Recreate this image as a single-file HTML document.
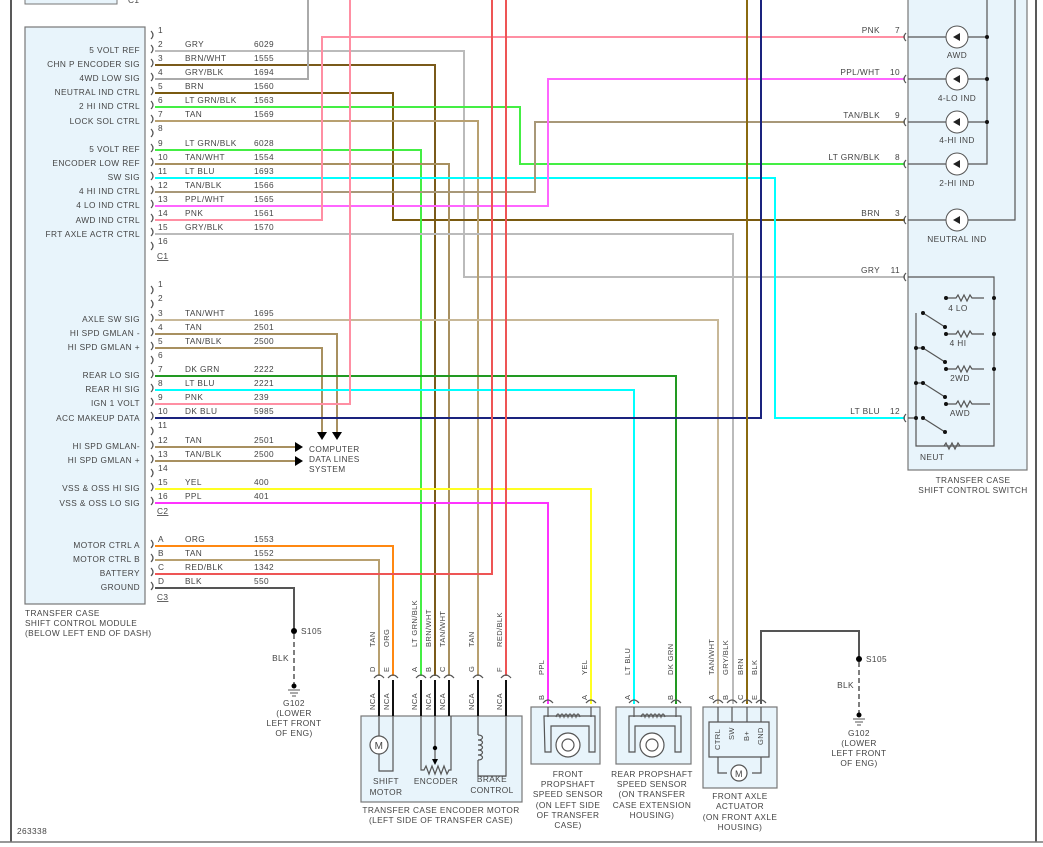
<!DOCTYPE html>
<html><head><meta charset="utf-8"><style>
html,body{margin:0;padding:0;background:#fff;}
svg{display:block;font-family:"Liberation Sans",sans-serif;font-size:8.3px;fill:#444;letter-spacing:0.4px}
.w{fill:none;stroke-width:2}
.k{fill:none;stroke:#555;stroke-width:1.2}
.e{text-anchor:end}.m{text-anchor:middle}
</style></head><body>
<svg width="1043" height="847" viewBox="0 0 1043 847" xmlns="http://www.w3.org/2000/svg">
<!-- frame -->
<line x1="11" y1="0" x2="11" y2="842" stroke="#222" stroke-width="1.5"/>
<line x1="1036" y1="0" x2="1036" y2="842" stroke="#222" stroke-width="1.5"/>
<line x1="0" y1="842" x2="1043" y2="842" stroke="#777" stroke-width="1.5"/>
<rect x="25" y="-5" width="92" height="9" fill="#e8f4fb" stroke="#777"/>
<text x="128" y="3">C1</text>
<!-- module -->
<rect x="25" y="27" width="120" height="577" fill="#e8f4fb" stroke="#777" stroke-width="1.2"/>
<rect x="908" y="-5" width="119" height="475" fill="#e8f4fb" stroke="#777" stroke-width="1.2"/>
<rect x="361" y="716" width="161" height="86" fill="#e8f4fb" stroke="#777" stroke-width="1.2"/>
<rect x="531" y="707" width="69" height="57" fill="#e8f4fb" stroke="#777" stroke-width="1.2"/>
<rect x="616" y="707" width="75" height="57" fill="#e8f4fb" stroke="#777" stroke-width="1.2"/>
<rect x="703" y="707" width="74" height="81" fill="#e8f4fb" stroke="#777" stroke-width="1.2"/>

<!-- wires -->
<g class="w">
<path d="M155,51H464V277H905" stroke="#bbb"/>
<path d="M155,65H435V676" stroke="#7a5a1a"/>
<path d="M155,79H308V0" stroke="#aaa"/>
<path d="M155,93H393V220H905" stroke="#7a5a10"/>
<path d="M155,107H520V164H905" stroke="#44ee44"/>
<path d="M155,121H478V676" stroke="#b8a070"/>
<path d="M155,150H421V676" stroke="#44ee44"/>
<path d="M155,164H449V676" stroke="#a89060"/>
<path d="M155,178H775V418H905" stroke="#00ffff"/>
<path d="M155,192H535V122H905" stroke="#a89878"/>
<path d="M155,206H548V79H905" stroke="#ff66ff"/>
<path d="M155,220H322V37H905" stroke="#ff8fa3"/>
<path d="M155,234H733V704" stroke="#bbb"/>
<path d="M155,320H718V704" stroke="#c8b898"/>
<path d="M155,334H337V432" stroke="#a89060"/>
<path d="M155,348H322V432" stroke="#a89060"/>
<path d="M155,376H676V704" stroke="#229922"/>
<path d="M155,390H634V704" stroke="#00ffff"/>
<path d="M155,404H350V0" stroke="#ff8fa3"/>
<path d="M155,418H761V0" stroke="#1a237e"/>
<path d="M155,447H295" stroke="#a89060"/>
<path d="M155,461H295" stroke="#a89060"/>
<path d="M155,489H591V704" stroke="#ffff22"/>
<path d="M155,503H548V704" stroke="#ff33ff"/>
<path d="M155,546H393V676" stroke="#ff8811"/>
<path d="M155,560H379V676" stroke="#b8a070"/>
<path d="M155,574H492V0" stroke="#ee5555"/>
<path d="M506,0V676" stroke="#ee5555"/>
<path d="M747,0V704" stroke="#8a6a10"/>
<path d="M155,588H294V631" stroke="#555"/>
<path d="M761,704V631H859V659" stroke="#555"/>
</g>
<!-- arrows to computer data lines -->
<g fill="#000">
<polygon points="317,432 327,432 322,440"/><polygon points="332,432 342,432 337,440"/>
<polygon points="295,442 303,447 295,452"/><polygon points="295,456 303,461 295,466"/>
</g>
<text x="309" y="452">COMPUTER</text><text x="309" y="462">DATA LINES</text><text x="309" y="472">SYSTEM</text>

<!-- C1 texts -->
<g>
<text x="140" y="53" class="e">5 VOLT REF</text>
<text x="140" y="67" class="e">CHN P ENCODER SIG</text>
<text x="140" y="81" class="e">4WD LOW SIG</text>
<text x="140" y="95" class="e">NEUTRAL IND CTRL</text>
<text x="140" y="109" class="e">2 HI IND CTRL</text>
<text x="140" y="124" class="e">LOCK SOL CTRL</text>
<text x="140" y="152" class="e">5 VOLT REF</text>
<text x="140" y="166" class="e">ENCODER LOW REF</text>
<text x="140" y="180" class="e">SW SIG</text>
<text x="140" y="194" class="e">4 HI IND CTRL</text>
<text x="140" y="208" class="e">4 LO IND CTRL</text>
<text x="140" y="223" class="e">AWD IND CTRL</text>
<text x="140" y="237" class="e">FRT AXLE ACTR CTRL</text>
<text x="140" y="322" class="e">AXLE SW SIG</text>
<text x="140" y="336" class="e">HI SPD GMLAN -</text>
<text x="140" y="350" class="e">HI SPD GMLAN +</text>
<text x="140" y="378" class="e">REAR LO SIG</text>
<text x="140" y="392" class="e">REAR HI SIG</text>
<text x="140" y="406" class="e">IGN 1 VOLT</text>
<text x="140" y="421" class="e">ACC MAKEUP DATA</text>
<text x="140" y="449" class="e">HI SPD GMLAN-</text>
<text x="140" y="463" class="e">HI SPD GMLAN +</text>
<text x="140" y="491" class="e">VSS &amp; OSS HI SIG</text>
<text x="140" y="506" class="e">VSS &amp; OSS LO SIG</text>
<text x="140" y="548" class="e">MOTOR CTRL A</text>
<text x="140" y="562" class="e">MOTOR CTRL B</text>
<text x="140" y="576" class="e">BATTERY</text>
<text x="140" y="590" class="e">GROUND</text>
</g>
<text x="25" y="616">TRANSFER CASE</text><text x="25" y="626">SHIFT CONTROL MODULE</text><text x="25" y="636">(BELOW LEFT END OF DASH)</text>
<text x="17" y="834">263338</text>

<!-- pin numbers / colors / circuits -->
<g>
<text x="158" y="33">1</text>
<text x="158" y="47">2</text><text x="185" y="47">GRY</text><text x="254" y="47">6029</text>
<text x="158" y="61">3</text><text x="185" y="61">BRN/WHT</text><text x="254" y="61">1555</text>
<text x="158" y="75">4</text><text x="185" y="75">GRY/BLK</text><text x="254" y="75">1694</text>
<text x="158" y="89">5</text><text x="185" y="89">BRN</text><text x="254" y="89">1560</text>
<text x="158" y="103">6</text><text x="185" y="103">LT GRN/BLK</text><text x="254" y="103">1563</text>
<text x="158" y="117">7</text><text x="185" y="117">TAN</text><text x="254" y="117">1569</text>
<text x="158" y="131">8</text>
<text x="158" y="146">9</text><text x="185" y="146">LT GRN/BLK</text><text x="254" y="146">6028</text>
<text x="158" y="160">10</text><text x="185" y="160">TAN/WHT</text><text x="254" y="160">1554</text>
<text x="158" y="174">11</text><text x="185" y="174">LT BLU</text><text x="254" y="174">1693</text>
<text x="158" y="188">12</text><text x="185" y="188">TAN/BLK</text><text x="254" y="188">1566</text>
<text x="158" y="202">13</text><text x="185" y="202">PPL/WHT</text><text x="254" y="202">1565</text>
<text x="158" y="216">14</text><text x="185" y="216">PNK</text><text x="254" y="216">1561</text>
<text x="158" y="230">15</text><text x="185" y="230">GRY/BLK</text><text x="254" y="230">1570</text>
<text x="158" y="244">16</text>
<text x="157" y="259" text-decoration="underline">C1</text>
<text x="158" y="287">1</text><text x="158" y="301">2</text>
<text x="158" y="316">3</text><text x="185" y="316">TAN/WHT</text><text x="254" y="316">1695</text>
<text x="158" y="330">4</text><text x="185" y="330">TAN</text><text x="254" y="330">2501</text>
<text x="158" y="344">5</text><text x="185" y="344">TAN/BLK</text><text x="254" y="344">2500</text>
<text x="158" y="358">6</text>
<text x="158" y="372">7</text><text x="185" y="372">DK GRN</text><text x="254" y="372">2222</text>
<text x="158" y="386">8</text><text x="185" y="386">LT BLU</text><text x="254" y="386">2221</text>
<text x="158" y="400">9</text><text x="185" y="400">PNK</text><text x="254" y="400">239</text>
<text x="158" y="414">10</text><text x="185" y="414">DK BLU</text><text x="254" y="414">5985</text>
<text x="158" y="428">11</text>
<text x="158" y="443">12</text><text x="185" y="443">TAN</text><text x="254" y="443">2501</text>
<text x="158" y="457">13</text><text x="185" y="457">TAN/BLK</text><text x="254" y="457">2500</text>
<text x="158" y="471">14</text>
<text x="158" y="485">15</text><text x="185" y="485">YEL</text><text x="254" y="485">400</text>
<text x="158" y="499">16</text><text x="185" y="499">PPL</text><text x="254" y="499">401</text>
<text x="157" y="514" text-decoration="underline">C2</text>
<text x="158" y="542">A</text><text x="185" y="542">ORG</text><text x="254" y="542">1553</text>
<text x="158" y="556">B</text><text x="185" y="556">TAN</text><text x="254" y="556">1552</text>
<text x="158" y="570">C</text><text x="185" y="570">RED/BLK</text><text x="254" y="570">1342</text>
<text x="158" y="584">D</text><text x="185" y="584">BLK</text><text x="254" y="584">550</text>
<text x="157" y="600" text-decoration="underline">C3</text>
</g>
<!-- module connector marks -->
<g class="k" stroke="#444">
<path d="M151,31q4,4 0,8M151,45q4,4 0,8M151,59q4,4 0,8M151,73q4,4 0,8M151,87q4,4 0,8M151,101q4,4 0,8M151,115q4,4 0,8M151,129q4,4 0,8M151,144q4,4 0,8M151,158q4,4 0,8M151,172q4,4 0,8M151,186q4,4 0,8M151,200q4,4 0,8M151,214q4,4 0,8M151,228q4,4 0,8M151,242q4,4 0,8"/>
<path d="M151,286q4,4 0,8M151,300q4,4 0,8M151,314q4,4 0,8M151,328q4,4 0,8M151,342q4,4 0,8M151,356q4,4 0,8M151,370q4,4 0,8M151,384q4,4 0,8M151,398q4,4 0,8M151,412q4,4 0,8M151,427q4,4 0,8M151,441q4,4 0,8M151,455q4,4 0,8M151,469q4,4 0,8M151,483q4,4 0,8M151,497q4,4 0,8"/>
<path d="M151,540q4,4 0,8M151,554q4,4 0,8M151,568q4,4 0,8M151,582q4,4 0,8"/>
</g>

<!-- S105 ground left -->
<circle cx="294" cy="631" r="3" fill="#000"/><text x="301" y="634">S105</text>
<line x1="294" y1="634" x2="294" y2="686" stroke="#555" stroke-width="1.5" stroke-dasharray="5,3"/>
<text x="289" y="661" class="e">BLK</text>
<circle cx="294" cy="686" r="2.5" fill="#000"/>
<path d="M288,690h12M290,693h8M292,696h4" stroke="#555"/>
<g class="m"><text x="294" y="706">G102</text><text x="294" y="716">(LOWER</text><text x="294" y="726">LEFT FRONT</text><text x="294" y="736">OF ENG)</text></g>
<!-- right ground -->
<circle cx="859" cy="659" r="3" fill="#000"/><text x="866" y="662">S105</text>
<line x1="859" y1="662" x2="859" y2="715" stroke="#555" stroke-width="1.5" stroke-dasharray="5,3"/>
<text x="854" y="688" class="e">BLK</text>
<circle cx="859" cy="715" r="2.5" fill="#000"/>
<path d="M853,719h12M855,722h8M857,725h4" stroke="#555"/>
<g class="m"><text x="859" y="736">G102</text><text x="859" y="746">(LOWER</text><text x="859" y="756">LEFT FRONT</text><text x="859" y="766">OF ENG)</text></g>

<!-- encoder motor connectors -->
<g stroke="#111" stroke-width="2">
<path d="M379,680V716M393,680V716M421,680V716M435,680V716M449,680V716M478,680V716M506,680V716"/>
</g>
<g class="k" stroke="#444">
<path d="M374,678q5,-6 10,0M388,678q5,-6 10,0M416,678q5,-6 10,0M430,678q5,-6 10,0M444,678q5,-6 10,0M473,678q5,-6 10,0M501,678q5,-6 10,0"/>
</g>
<g font-size="7.5">
<g transform="rotate(-90)">
<text x="-647" y="375">TAN</text><text x="-647" y="389">ORG</text><text x="-647" y="417">LT GRN/BLK</text><text x="-647" y="431">BRN/WHT</text><text x="-647" y="445">TAN/WHT</text><text x="-647" y="474">TAN</text><text x="-647" y="502">RED/BLK</text>
<text x="-672" y="375">D</text><text x="-672" y="389">E</text><text x="-672" y="417">A</text><text x="-672" y="431">B</text><text x="-672" y="445">C</text><text x="-672" y="474">G</text><text x="-672" y="502">F</text>
<text x="-710" y="375">NCA</text><text x="-710" y="389">NCA</text><text x="-710" y="417">NCA</text><text x="-710" y="431">NCA</text><text x="-710" y="445">NCA</text><text x="-710" y="474">NCA</text><text x="-710" y="502">NCA</text>
<!-- sensors -->
<text x="-675" y="544">PPL</text><text x="-675" y="587">YEL</text><text x="-675" y="630">LT BLU</text><text x="-675" y="673">DK GRN</text>
<text x="-700" y="544">B</text><text x="-700" y="587">A</text><text x="-700" y="630">A</text><text x="-700" y="673">B</text>
<text x="-675" y="714">TAN/WHT</text><text x="-675" y="728">GRY/BLK</text><text x="-675" y="743">BRN</text><text x="-675" y="757">BLK</text>
<text x="-700" y="714">A</text><text x="-700" y="728">B</text><text x="-700" y="743">C</text><text x="-700" y="757">E</text>
</g></g>
<!-- encoder internals -->
<g class="k" stroke="#333">
<path d="M379,716V736M379,754V771H393V716"/>
<circle cx="379" cy="745" r="9" fill="#fff"/>
<path d="M421,716V770h3l2,-4 3,8 3,-8 3,8 3,-8 3,8 3,-8 3,8 2,-4h2V716"/>
<path d="M435,716V760"/>
<path d="M478,716V735M478,760V776H506V716"/>
<path d="M478,735c6,0 6,5 0,5c6,0 6,5 0,5c6,0 6,5 0,5c6,0 6,5 0,5c6,0 6,5 0,5"/>
</g>
<polygon points="432,759 438,759 435,765" fill="#000"/><circle cx="435" cy="748" r="2.2" fill="#000"/>
<text x="379" y="749" class="m" font-size="10">M</text>
<g class="m"><text x="386" y="784">SHIFT</text><text x="386" y="795">MOTOR</text><text x="436" y="784">ENCODER</text><text x="492" y="782">BRAKE</text><text x="492" y="793">CONTROL</text>
<text x="441" y="813">TRANSFER CASE ENCODER MOTOR</text><text x="441" y="823">(LEFT SIDE OF TRANSFER CASE)</text>
<text x="568" y="777">FRONT</text><text x="568" y="787">PROPSHAFT</text><text x="568" y="797">SPEED SENSOR</text><text x="568" y="808">(ON LEFT SIDE</text><text x="568" y="818">OF TRANSFER</text><text x="568" y="828">CASE)</text>
<text x="652" y="777">REAR PROPSHAFT</text><text x="652" y="787">SPEED SENSOR</text><text x="652" y="797">(ON TRANSFER</text><text x="652" y="808">CASE EXTENSION</text><text x="652" y="818">HOUSING)</text>
<text x="740" y="799">FRONT AXLE</text><text x="740" y="809">ACTUATOR</text><text x="740" y="820">(ON FRONT AXLE</text><text x="740" y="830">HOUSING)</text></g>
<!-- sensor internals -->
<g class="k" stroke="#444">
<path d="M543,703q5,-6 10,0M586,703q5,-6 10,0M629,703q5,-6 10,0M671,703q5,-6 10,0M713,703q5,-6 10,0M727,703q5,-6 10,0M742,703q5,-6 10,0M756,703q5,-6 10,0"/>
<path d="M548,707V717M591,707V717M544,716h51v36h-6v-26h-38v26h-6z" />
<path d="M556,717q2,-6 4,0q2,-6 4,0q2,-6 4,0q2,-6 4,0q2,-6 4,0q2,-6 4,0"/>
<circle cx="568" cy="745" r="12" fill="#fff"/><circle cx="568" cy="745" r="6"/>
<path d="M634,707V717M676,707V717M629,716h52v36h-6v-26h-40v26h-6z"/>
<path d="M641,717q2,-6 4,0q2,-6 4,0q2,-6 4,0q2,-6 4,0q2,-6 4,0q2,-6 4,0"/>
<circle cx="652" cy="745" r="12" fill="#fff"/><circle cx="652" cy="745" r="6"/>
<path d="M718,707V722M732,707V722M747,707V722M761,707V722M709,722h60v35h-60z"/>
<path d="M718,757V773h9M761,757V773h-9"/>
<circle cx="739" cy="773" r="8" fill="#fff"/>
</g>
<text x="739" y="777" class="m" font-size="9">M</text>
<g font-size="7.5" transform="rotate(-90)"><text x="-750" y="720">CTRL</text><text x="-740" y="734">SW</text><text x="-741" y="749">B+</text><text x="-745" y="763">GND</text></g>

<!-- switch -->
<g>
<text x="880" y="33" class="e">PNK</text><text x="900" y="33" class="e">7</text>
<text x="880" y="75" class="e">PPL/WHT</text><text x="900" y="75" class="e">10</text>
<text x="880" y="118" class="e">TAN/BLK</text><text x="900" y="118" class="e">9</text>
<text x="880" y="160" class="e">LT GRN/BLK</text><text x="900" y="160" class="e">8</text>
<text x="880" y="216" class="e">BRN</text><text x="900" y="216" class="e">3</text>
<text x="880" y="273" class="e">GRY</text><text x="900" y="273" class="e">11</text>
<text x="880" y="414" class="e">LT BLU</text><text x="900" y="414" class="e">12</text>
</g>
<g class="k" stroke="#444">
<path d="M906,33q-4,4 0,8M906,75q-4,4 0,8M906,118q-4,4 0,8M906,160q-4,4 0,8M906,216q-4,4 0,8M906,273q-4,4 0,8M906,414q-4,4 0,8"/>
<path d="M908,37H987M908,79H987M908,122H987M908,164H987V0M908,220H1015V0"/>
<path d="M908,277H994V446H916V313M916,348h6M916,383h6M908,418h8"/>
<path d="M946,298h10l2,-3 3,6 3,-6 3,6 3,-6 2,3h12M946,334h10l2,-3 3,6 3,-6 3,6 3,-6 2,3h12M946,369h10l2,-3 3,6 3,-6 3,6 3,-6 2,3h12M946,404h10l2,-3 3,6 3,-6 3,6 3,-6 2,3h18M944,446l2,-3 3,6 3,-6 3,6 3,-6 2,3"/>
<path d="M923,313l22,14M923,348l22,14M923,383l22,14M923,418l22,14"/>
</g>
<g fill="#111">
<circle cx="987" cy="37" r="2"/><circle cx="987" cy="79" r="2"/><circle cx="987" cy="122" r="2"/>
<circle cx="946" cy="298" r="2"/><circle cx="994" cy="298" r="2"/><circle cx="946" cy="334" r="2"/><circle cx="994" cy="334" r="2"/><circle cx="946" cy="369" r="2"/><circle cx="994" cy="369" r="2"/><circle cx="946" cy="404" r="2"/>
<circle cx="923" cy="313" r="2"/><circle cx="945" cy="327" r="2"/><circle cx="916" cy="348" r="2"/><circle cx="923" cy="348" r="2"/><circle cx="945" cy="362" r="2"/><circle cx="916" cy="383" r="2"/><circle cx="923" cy="383" r="2"/><circle cx="945" cy="397" r="2"/><circle cx="916" cy="418" r="2"/><circle cx="923" cy="418" r="2"/><circle cx="945" cy="432" r="2"/>
</g>
<g stroke="#555" fill="#fff"><circle cx="957" cy="37" r="11"/><circle cx="957" cy="79" r="11"/><circle cx="957" cy="122" r="11"/><circle cx="957" cy="164" r="11"/><circle cx="957" cy="220" r="11"/></g>
<g fill="#222"><polygon points="953,37 960,33 960,41"/><polygon points="953,79 960,75 960,83"/><polygon points="953,122 960,118 960,126"/><polygon points="953,164 960,160 960,168"/><polygon points="953,220 960,216 960,224"/></g>
<g class="m">
<text x="957" y="58">AWD</text><text x="957" y="101">4-LO IND</text><text x="957" y="143">4-HI IND</text><text x="957" y="186">2-HI IND</text><text x="957" y="242">NEUTRAL IND</text>
<text x="958" y="311">4 LO</text><text x="958" y="346">4 HI</text><text x="960" y="381">2WD</text><text x="960" y="416">AWD</text>
<text x="973" y="483">TRANSFER CASE</text><text x="973" y="493">SHIFT CONTROL SWITCH</text>
</g>
<text x="920" y="460">NEUT</text>
</svg>
</body></html>
